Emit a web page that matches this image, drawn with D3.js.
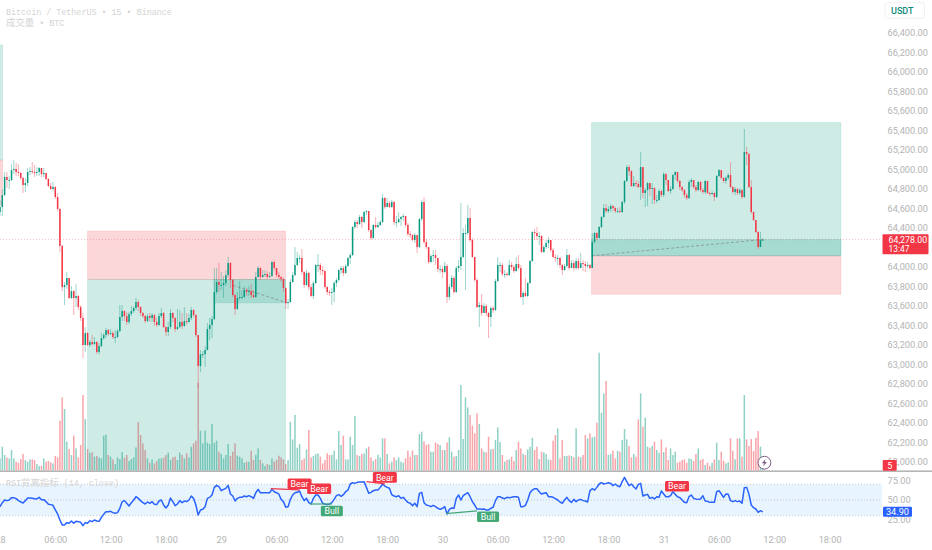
<!DOCTYPE html>
<html>
<head>
<meta charset="utf-8">
<script src="https://cdnjs.cloudflare.com/ajax/libs/d3/7.8.5/d3.min.js"></script>
<style>
html, body { margin: 0; padding: 0; background: #fff; overflow: hidden; }
svg { display: block; }
.tick text { font-family: Roboto, sans-serif; font-size: 9.2px; fill: #b4b4b4; }
.legend { font-family: "Liberation Mono", "Noto Sans CJK SC", monospace; font-size: 8.4px; fill: #d4d4d4; }
.legend .cjk { font-family: "Noto Sans CJK SC", sans-serif; font-size: 9.4px; }
</style>
</head>
<body>
<script>
var firstOpen = 64560;
var closes = [64612,64735,64920,64889,64889,64991,65002,64971,64961,64910,64838,64858,64971,64981,64971,64961,64971,65012,64950,64961,
64899,64828,64797,64817,64715,64592,64213,63792,63813,63885,63680,63751,63680,63700,63587,63475,63198,63321,63198,63229,
63208,63229,63126,63187,63269,63300,63351,63311,63321,63280,63280,63341,63485,63546,63495,63434,63516,63546,63577,63639,
63587,63526,63495,63444,63495,63475,63505,63434,63403,63495,63526,63382,63331,63382,63526,63475,63362,63382,63434,63393,
63444,63434,63475,63556,63505,63300,62982,63105,63105,63146,63362,63403,63464,63741,63844,63813,63813,63833,63915,64038,
63864,63710,63567,63680,63690,63690,63761,63741,63751,63710,63690,63895,63987,63895,63915,63926,63895,63905,64049,63987,
63915,63895,63874,63782,63628,63639,63844,63915,64018,64090,64090,63946,63813,63936,63792,63700,63833,64018,64018,63966,
63956,63792,63741,63731,63741,63833,63864,63966,63987,63936,64008,64090,64120,64407,64458,64438,64510,64458,64561,64571,
64376,64295,64428,64407,64428,64458,64705,64612,64653,64612,64664,64458,64458,64489,64510,64520,64428,64335,64325,64274,
64325,64202,64489,64664,64253,64202,64049,64110,64120,64090,63977,63977,63946,64008,63690,63792,63885,63741,63987,64008,
64100,64346,64346,64500,64274,64100,63864,63587,63608,63526,63597,63526,63485,63577,63556,63854,64018,64018,63926,63926,
63915,64018,63997,63956,64028,63987,63690,63731,63700,63833,64059,64356,64346,64315,64315,64151,64202,64243,64274,64171,
64100,64090,64090,64018,63966,64008,64120,63987,64038,63987,64059,63987,64038,64028,64008,64018,63987,64253,64346,64295,
64407,64510,64602,64571,64592,64622,64602,64571,64571,64561,64664,64879,65022,64981,64828,64858,64848,64817,65022,64756,
64786,64858,64797,64807,64684,64684,64776,64735,64950,64889,64776,64797,64940,64971,64879,64817,64786,64735,64704,64869,
64889,64817,64786,64869,64786,64766,64879,64756,64746,64756,64715,64930,64991,64910,64879,64910,64940,64817,64766,64797,
64756,64786,64715,65176,65156,64817,64561,64479,64356,64202,64274,64278];
var highs = [64684,64797,64971,64971,64930,65053,65094,65063,65053,64971,64920,64910,65012,65022,65073,65043,65022,65022,65012,65012,
64961,64910,64858,64869,64828,64756,64602,64223,63844,63946,63885,63802,63761,63823,63710,63608,63526,63382,63331,63249,
63300,63280,63239,63218,63321,63321,63372,63362,63362,63341,63351,63362,63608,63608,63556,63536,63536,63597,63597,63680,
63659,63597,63536,63505,63516,63526,63526,63516,63475,63526,63577,63536,63393,63434,63567,63536,63485,63567,63556,63526,
63587,63526,63516,63587,63567,63516,63300,63146,63136,63187,63423,63475,63495,63987,63987,64038,63946,63905,63966,64100,
64049,63874,63720,63741,63854,63761,63802,63782,63802,63823,63761,63946,64008,63997,63966,63966,63956,63946,64059,64069,
63987,63946,63905,63885,63792,63669,63874,63946,64202,64151,64120,64182,63956,63966,63946,63823,63854,64028,64130,64038,
64008,63966,63802,63761,63782,63854,63885,63977,64008,64008,64028,64100,64141,64418,64479,64479,64530,64520,64571,64581,
64571,64387,64438,64510,64458,64479,64746,64715,64704,64674,64684,64674,64520,64561,64520,64541,64520,64448,64366,64335,
64346,64325,64500,64684,64715,64284,64202,64130,64171,64171,64090,64018,64008,64049,64028,63823,63915,63905,64008,64069,
64653,64397,64428,64632,64602,64295,64100,63885,63639,63720,63628,63618,63536,63597,63597,63874,64100,64049,64038,63966,
63946,64069,64049,64018,64100,64120,64018,63751,63885,63844,64069,64366,64387,64407,64356,64325,64223,64274,64305,64274,
64192,64130,64120,64100,64028,64028,64182,64130,64069,64069,64090,64090,64141,64069,64059,64049,64028,64346,64356,64356,
64418,64520,64643,64643,64622,64643,64632,64612,64602,64612,64674,64889,65043,65043,64991,64930,64889,64879,65176,65022,
64807,64869,64858,64858,64817,64735,64797,64786,64971,64961,64889,64828,64950,64981,64971,64889,64828,64797,64756,64889,
64910,64889,64838,64879,64879,64807,64889,64879,64766,64776,64766,64940,65002,64991,64920,64930,64961,65073,64828,64817,
64807,64807,64797,65412,65227,65166,64889,64571,64479,64366,64356,64295];
var lows = [64520,64520,64725,64807,64797,64879,64950,64930,64930,64889,64756,64766,64828,64940,64950,64920,64930,64930,64920,64920,
64889,64817,64786,64776,64694,64571,64151,63751,63608,63772,63669,63669,63505,63587,63556,63444,63064,63126,63187,63177,
63187,63198,63105,63105,63177,63249,63269,63290,63300,63259,63218,63269,63331,63444,63444,63403,63413,63495,63526,63556,
63546,63495,63475,63423,63434,63434,63434,63393,63382,63393,63475,63372,63290,63290,63362,63434,63331,63351,63372,63362,
63382,63403,63423,63454,63485,63280,62757,62921,63064,62972,63146,63249,63269,63454,63720,63741,63761,63680,63802,63885,
63782,63690,63505,63556,63659,63669,63680,63700,63700,63680,63680,63680,63885,63864,63885,63895,63874,63885,63895,63966,
63895,63874,63844,63741,63567,63567,63628,63833,63905,64008,64038,63915,63782,63802,63761,63690,63669,63823,63946,63915,
63915,63772,63710,63700,63608,63639,63792,63844,63926,63905,63926,63997,64028,64110,64387,64397,64428,64397,64448,64530,
64356,64274,64284,64387,64397,64417,64448,64592,64632,64602,64602,64428,64407,64448,64417,64469,64407,64315,64295,64264,
64243,64141,64192,64469,64233,64182,64028,64038,64049,64018,63946,63936,63885,63936,63628,63659,63772,63720,63731,63946,
63966,64090,63761,64325,64253,64090,63844,63577,63382,63495,63536,63495,63269,63382,63526,63546,63844,63946,63905,63885,
63905,63905,63966,63936,63946,63966,63680,63608,63690,63690,63823,64049,64274,64274,64223,64141,64141,64182,64192,64151,
64090,64049,64018,63987,63915,63956,63987,63966,63987,63956,63966,63966,63987,63956,63946,63987,63966,63987,64243,64274,
64284,64397,64500,64551,64551,64561,64571,64551,64551,64551,64551,64643,64869,64930,64817,64817,64817,64807,64684,64704,
64612,64622,64725,64643,64643,64653,64674,64715,64715,64838,64766,64746,64786,64889,64858,64786,64766,64704,64684,64694,
64817,64797,64766,64776,64766,64746,64746,64746,64725,64735,64674,64704,64920,64889,64858,64848,64889,64807,64746,64735,
64735,64735,64694,64704,65043,64807,64541,64469,64346,64182,64202,64264];
var volumes = [123,240,157,133,123,207,123,90,80,117,167,107,90,113,113,107,67,47,50,123,
90,97,83,73,147,133,500,733,617,290,217,157,350,223,133,257,757,517,217,180,
183,140,147,133,123,350,360,157,140,113,67,133,117,187,130,157,97,117,133,233,
487,357,273,207,123,80,113,73,97,120,123,130,157,180,107,133,140,107,180,157,
123,173,133,240,273,300,880,400,273,400,280,267,467,280,300,190,167,123,157,267,
147,190,273,150,140,123,80,90,90,200,107,157,223,107,73,47,67,57,123,90,
107,150,133,113,67,107,490,313,557,230,267,107,123,213,407,133,147,167,173,140,
73,107,173,157,157,200,113,397,257,350,113,113,340,257,547,157,147,167,173,223,
240,133,97,117,160,133,323,323,167,73,90,133,107,133,90,80,123,200,140,200,
157,157,367,390,293,257,267,190,190,283,267,257,207,207,283,333,190,140,147,207,
857,317,733,633,557,450,373,573,467,223,190,183,340,213,217,307,433,287,157,90,
107,113,140,97,207,290,223,167,157,213,240,330,207,240,117,190,183,167,113,107,
300,357,423,123,307,147,147,153,147,133,423,140,133,157,357,323,373,333,340,480,
1180,580,773,897,157,167,200,123,200,190,307,417,313,247,133,167,140,513,773,440,
530,240,230,247,290,207,180,313,187,233,107,223,157,190,80,90,107,113,80,123,
117,97,167,223,107,117,57,80,47,80,113,280,107,190,100,73,83,323,200,113,
323,323,140,757,313,247,317,197,330,397,240,23];
var rsiValues = [41.5,46.6,50,49.2,50,53,53,51.7,49.2,47.5,46.2,49.2,52.5,52.5,52.1,51.7,51.3,53.4,50.4,50.4,
47.9,44.5,44.1,43.2,37.3,32.2,24.5,18.2,18.2,21.1,20.3,23.2,20.3,22.8,22.4,21.6,17.3,21.1,20.3,23.7,
22.4,24.5,23.2,22.8,27.9,31.7,35.1,35.1,35.6,33.9,33,33.9,39.4,47.9,49.2,45.8,42.4,46.6,50,54.2,
52.1,49.2,46.6,44.9,47.5,45.8,47.9,44.5,44.1,48.7,50,43.6,39.8,43.6,52.5,47.9,42.8,44.9,49.2,46.6,
48.7,47.9,50,55.1,52.1,43.6,30.9,37.3,38.1,41.5,52.1,53.4,56.4,66.1,68.7,67,61.9,63.6,64.9,68.7,
57.6,55.1,48.7,52.1,53.4,53.4,55.1,54.2,55.5,54.2,52.1,59.3,63.6,59.3,59.3,59.3,59.3,59.3,63.6,60.6,
59.3,57.6,50.8,47.9,40.7,41.5,50.8,56.4,59.3,59.8,61.5,54.2,49.2,52.1,46.6,44.9,52.1,56.4,56.4,52.1,
45.8,44.9,44.1,44.9,46.6,50.8,55.5,56.8,54.7,56.8,60.6,62.7,70.4,72.1,71.2,72.5,72.9,72.9,73.4,66.1,
58.5,59.8,61.9,62.7,62.7,66.1,70.4,67.8,66.1,64.9,56.8,55.1,54.2,55.5,52.1,53.4,50,47,45.8,42.8,
45.8,41.5,58.5,59.8,46.6,43.6,42.8,41.5,43.2,41.5,39.4,38.1,39.4,41.5,32.2,38.1,39.8,39.4,52.1,56.4,
50,55.5,57.6,59.3,54.2,47.9,43.6,38.5,38.5,38.1,38.5,37.3,37.3,39.4,40.7,49.2,54.2,54.2,52.5,51.7,
53.4,53,53.4,54.2,54.2,53.4,41.5,41.5,43.2,50,59.3,62.7,64.4,64.4,60.6,57.6,58.5,59.3,54.2,54.2,
53.4,51.7,50,47.5,45.8,50,53.4,49.2,47,50.8,47.9,50,50.8,49.2,48.7,47.5,61.9,64.4,62.7,66.1,
70.4,72.1,70.4,71.2,72.1,71.2,68.3,70.4,67.8,67,73.4,78.9,73.4,68.3,70.4,67,64,70,71.2,55.1,
56.4,57.2,52.1,53.4,51.3,54.2,53.4,61.5,57.6,54.2,54.2,55.5,60.6,57.2,54.2,53,50,47,46.6,54.2,
56.4,52.1,51.3,50.8,51.3,55.5,48.7,48.3,47,47,47,60.6,61.9,57.6,53.4,57.6,57.2,49.2,47.9,49.2,
47.9,48.7,45.8,65.7,66.1,57.6,43.6,40.2,38.5,34.3,36.4,34.9];

var priceTicks = [66400,66200,66000,65800,65600,65400,65200,65000,64800,64600,64400,64000,63800,63600,63400,63200,63000,62800,62600,62400,62200,62000];
var rsiTicks = [75,50,25];
var rsiBands = [70,50,30];
var timeBars = [0,24,48,72,96,120,144,168,192,216,240,264,288,312,336,360];
var timeLabels = ['28','06:00','12:00','18:00','29','06:00','12:00','18:00','30','06:00','12:00','18:00','31','06:00','12:00','18:00'];

var lastPrice = 64278;
var lastRsi = 34.9;

// [start bar, end bar, price, price]
var zoneGreen = [[-2, 1.1, 66273, 65094], [38, 123.9, 63869, 61906], [256.7, 364.9, 65478, 64113]];
var zoneRed = [[-2, 1.1, 65094, 64633], [38, 123.9, 64366, 63869], [256.7, 364.9, 64113, 63718]];
var zoneOpen = [[92.9, 123.9, 63869, 63631], [256.7, 364.9, 64279, 64113]];
var zonePaths = [[101, 63810, 124.5, 63631], [256.7, 64113, 331, 64279]];

// [bar, rsi, bar, rsi]
var bearLines = [[117.5, 64.4, 130, 62.8], [159, 73.4, 167, 70.5]];
var bullLines = [[134.5, 44.9, 144, 44.9], [193.5, 32.5, 207, 36.2]];
// [text, bar, rsi, colour]
var divLabels = [['Bear', 130, 70.8, '#f23645'], ['Bear', 138.5, 64.3, '#f23645'], ['Bear', 167, 78.9, '#f23645'],
  ['Bear', 293.8, 67.6, '#f23645'], ['Bull', 144, 36, '#45a877'], ['Bull', 211.8, 28.6, '#45a877']];

var width = 932, height = 550, chartRight = 882, paneBottom = 470.7;
var green = '#089981', red = '#f23645';

var svg = d3.select('body').append('svg').attr('width', width).attr('height', height);

svg.append('defs').append('clipPath').attr('id', 'pane')
  .append('rect').attr('x', 0).attr('y', 0).attr('width', chartRight).attr('height', paneBottom);

var x = d3.scaleLinear().domain([0, 360]).range([0, 829.6]);
var y = d3.scaleLinear().domain([62000, 66400]).range([461.9, 32.6]);
var yVol = d3.scaleLinear().domain([0, 1200]).range([paneBottom, paneBottom - 120]);
var yRsi = d3.scaleLinear().domain([25, 75]).range([519.6, 480.4]);

var bars = closes.map(function(c, i) {
  var open = i === 0 ? firstOpen : closes[i - 1];
  return {i: i, open: open, close: c, high: highs[i], low: lows[i], vol: volumes[i], up: c >= open};
});

var pane = svg.append('g').attr('clip-path', 'url(#pane)');

pane.append('g').selectAll('rect').data(bars).enter().append('rect')
  .attr('x', function(d) { return x(d.i) - 0.75; })
  .attr('width', 1.5)
  .attr('y', function(d) { return yVol(d.vol); })
  .attr('height', function(d) { return yVol(0) - yVol(d.vol); })
  .attr('fill', function(d) { return d.up ? green : red; })
  .attr('fill-opacity', 0.45);

function zone(list, fill, opacity) {
  pane.append('g').selectAll('rect').data(list).enter().append('rect')
    .attr('x', function(d) { return x(d[0]); })
    .attr('width', function(d) { return x(d[1]) - x(d[0]); })
    .attr('y', function(d) { return y(d[2]); })
    .attr('height', function(d) { return y(d[3]) - y(d[2]); })
    .attr('fill', fill)
    .attr('fill-opacity', opacity)
    .attr('stroke', fill)
    .attr('stroke-opacity', 0.12)
    .attr('stroke-width', 1);
}
zone(zoneGreen, green, 0.2);
zone(zoneRed, red, 0.2);
zone(zoneOpen, green, 0.2);

pane.append('g').selectAll('line').data(zonePaths).enter().append('line')
  .attr('x1', function(d) { return x(d[0]); })
  .attr('y1', function(d) { return y(d[1]); })
  .attr('x2', function(d) { return x(d[2]); })
  .attr('y2', function(d) { return y(d[3]); })
  .attr('stroke', '#8a9a9a')
  .attr('stroke-width', 0.9)
  .attr('stroke-dasharray', '3 2');

pane.append('g').selectAll('line').data(bars).enter().append('line')
  .attr('x1', function(d) { return x(d.i); })
  .attr('x2', function(d) { return x(d.i); })
  .attr('y1', function(d) { return y(d.high); })
  .attr('y2', function(d) { return y(d.low); })
  .attr('stroke', function(d) { return d.up ? green : red; })
  .attr('stroke-opacity', 0.4)
  .attr('stroke-width', 1);

pane.append('g').selectAll('rect').data(bars).enter().append('rect')
  .attr('x', function(d) { return x(d.i) - 0.75; })
  .attr('width', 1.5)
  .attr('y', function(d) { return y(Math.max(d.open, d.close)); })
  .attr('height', function(d) { return Math.max(1, Math.abs(y(d.open) - y(d.close))); })
  .attr('fill', function(d) { return d.up ? green : red; });

svg.append('line')
  .attr('x1', 0).attr('x2', chartRight)
  .attr('y1', y(lastPrice)).attr('y2', y(lastPrice))
  .attr('stroke', red).attr('stroke-opacity', 0.35)
  .attr('stroke-dasharray', '1 2');

// pane separator
svg.append('rect').attr('x', 0).attr('y', paneBottom - 0.3).attr('width', width).attr('height', 1.6).attr('fill', '#b5b5b5');

// rsi pane
svg.append('rect')
  .attr('x', 0).attr('width', chartRight)
  .attr('y', yRsi(rsiBands[0]))
  .attr('height', yRsi(rsiBands[2]) - yRsi(rsiBands[0]))
  .attr('fill', '#2196f3').attr('fill-opacity', 0.1);

svg.append('g').selectAll('line').data(rsiBands).enter().append('line')
  .attr('x1', 0).attr('x2', chartRight)
  .attr('y1', function(d) { return yRsi(d); })
  .attr('y2', function(d) { return yRsi(d); })
  .attr('stroke', '#b8bcc4')
  .attr('stroke-width', 0.8)
  .attr('stroke-dasharray', '1 2');

var rsiLine = d3.line()
  .x(function(d, i) { return x(i); })
  .y(function(d) { return yRsi(d); });

svg.append('path').datum(rsiValues)
  .attr('d', rsiLine)
  .attr('fill', 'none')
  .attr('stroke', '#2962ff')
  .attr('stroke-width', 1.5)
  .attr('stroke-linejoin', 'round');

function divLine(list, colour) {
  svg.append('g').selectAll('line').data(list).enter().append('line')
    .attr('x1', function(d) { return x(d[0]); })
    .attr('y1', function(d) { return yRsi(d[1]); })
    .attr('x2', function(d) { return x(d[2]); })
    .attr('y2', function(d) { return yRsi(d[3]); })
    .attr('stroke', colour)
    .attr('stroke-width', 1.2);
}
divLine(bearLines, red);
divLine(bullLines, '#45a877');

var labelG = svg.append('g').selectAll('g').data(divLabels).enter().append('g')
  .attr('transform', function(d) { return 'translate(' + x(d[1]) + ',' + yRsi(d[2]) + ')'; });
labelG.append('rect')
  .attr('x', function(d) { return d[0] === 'Bear' ? -12 : -11; })
  .attr('y', -5.3)
  .attr('width', function(d) { return d[0] === 'Bear' ? 24 : 22; })
  .attr('height', 10.6)
  .attr('rx', 1.5)
  .attr('fill', function(d) { return d[3]; });
labelG.append('text')
  .attr('text-anchor', 'middle')
  .attr('y', 3.2)
  .attr('font-family', 'Roboto, sans-serif')
  .attr('font-size', 8.8)
  .attr('fill', '#fff')
  .text(function(d) { return d[0]; });

// axes
var priceAxis = d3.axisRight(y).tickValues(priceTicks).tickSize(0).tickPadding(0)
  .tickFormat(function(d) { return d3.format(',.2f')(d); });
var gPrice = svg.append('g').attr('transform', 'translate(887.5,0)').call(priceAxis);
gPrice.select('.domain').remove();

var rsiAxis = d3.axisRight(yRsi).tickValues(rsiTicks).tickSize(0).tickPadding(0)
  .tickFormat(function(d) { return d3.format('.2f')(d); });
var gRsi = svg.append('g').attr('transform', 'translate(887.5,0)').call(rsiAxis);
gRsi.select('.domain').remove();

var timeAxis = d3.axisBottom(x).tickValues(timeBars).tickSize(0).tickPadding(0)
  .tickFormat(function(d, i) { return timeLabels[i]; });
var gTime = svg.append('g').attr('transform', 'translate(0,536)').call(timeAxis);
gTime.select('.domain').remove();

// legends
var legends = [['Bitcoin / TetherUS \u2022 15 \u2022 Binance', 6, 15],
  ['<tspan class="cjk">\u6210\u4ea4\u91cf</tspan> \u2022 BTC', 6, 25.5],
  ['RSI<tspan class="cjk">\u80cc\u79bb\u6307\u6807</tspan> (14, close)', 6, 486]];
svg.append('g').selectAll('text').data(legends).enter().append('text')
  .attr('class', 'legend')
  .attr('x', function(d) { return d[1]; })
  .attr('y', function(d) { return d[2]; })
  .html(function(d) { return d[0]; });

// usdt button
svg.append('rect').attr('x', 885).attr('y', 2.7).attr('width', 39.5).attr('height', 15.6).attr('rx', 2.5)
  .attr('fill', '#fff').attr('stroke', '#f0f1f3');
svg.append('text').attr('x', 891).attr('y', 14).attr('font-family', 'Roboto, sans-serif').attr('font-size', 9).attr('font-weight', 500)
  .attr('fill', '#0b8a76').text('USDT');

// last price label
svg.append('rect').attr('x', 882.5).attr('y', 234.3).attr('width', 46).attr('height', 20).attr('rx', 1).attr('fill', red);
svg.append('text').attr('x', 888.5).attr('y', 242.5).attr('font-family', 'Roboto, sans-serif').attr('font-size', 8.8).attr('fill', '#fff')
  .text(d3.format(',.2f')(lastPrice));
svg.append('text').attr('x', 888.5).attr('y', 251.6).attr('font-family', 'Roboto, sans-serif').attr('font-size', 8.4).attr('fill', '#fff')
  .text('13:47');

// alert count box
svg.append('rect').attr('x', 882.7).attr('y', 460).attr('width', 14).attr('height', 10.7).attr('rx', 1).attr('fill', red);
svg.append('text').attr('x', 889.7).attr('y', 468.6).attr('text-anchor', 'middle').attr('font-family', 'Roboto, sans-serif').attr('font-size', 9).attr('fill', '#fff').text('5');

// last rsi label
svg.append('rect').attr('x', 883).attr('y', yRsi(lastRsi) - 5).attr('width', 29).attr('height', 10).attr('rx', 1).attr('fill', '#2962ff');
svg.append('text').attr('x', 897.5).attr('y', yRsi(lastRsi) + 3.2).attr('text-anchor', 'middle').attr('font-family', 'Roboto, sans-serif').attr('font-size', 9.2).attr('fill', '#fff')
  .text(d3.format('.2f')(lastRsi));

// lightning badge
var badge = svg.append('g').attr('transform', 'translate(764.4,462.7)');
badge.append('circle').attr('r', 6.4).attr('fill', '#fff').attr('stroke', '#7c5e86').attr('stroke-width', 1);
badge.append('path').attr('d', 'M1.2,-3.6 L-2.6,0.6 L-0.3,0.6 L-1.2,3.6 L2.6,-0.6 L0.3,-0.6 Z').attr('fill', '#7c5e86');
</script>
</body>
</html>
